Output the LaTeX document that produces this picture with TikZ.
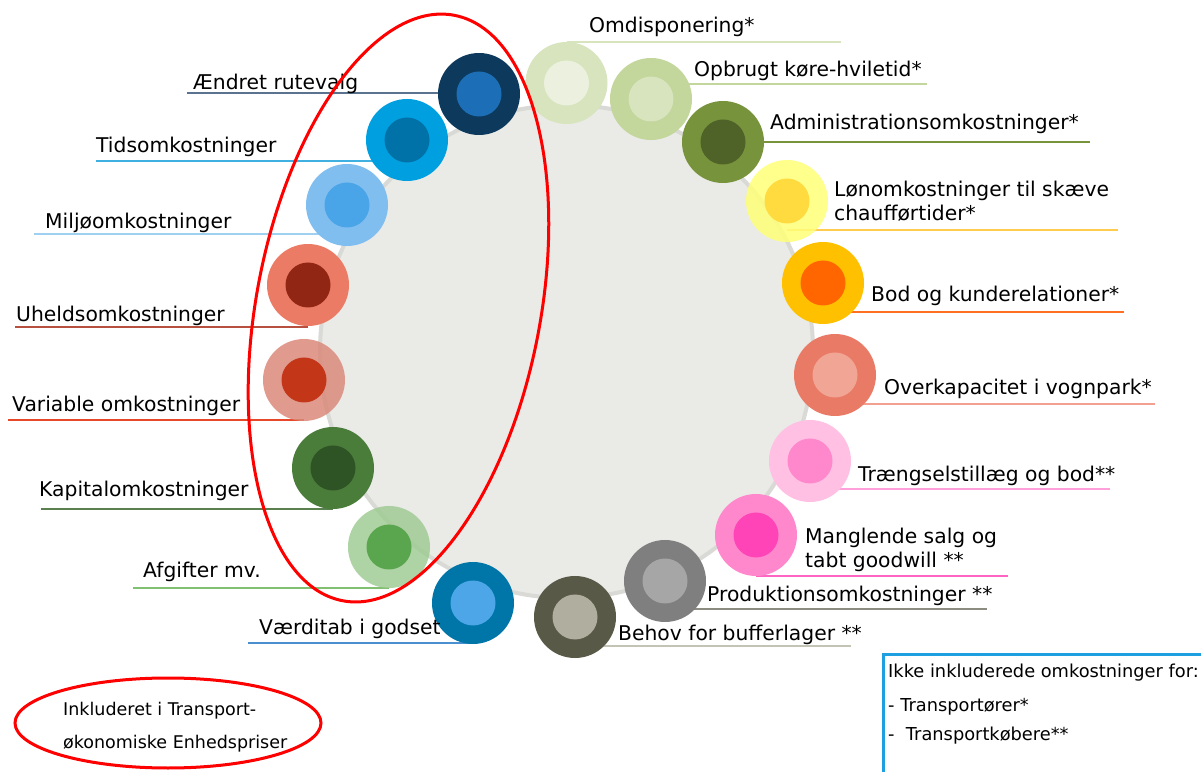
\documentclass[tikz,border=0pt]{standalone}
\usepackage{fontspec}
\setmainfont{DejaVu Sans}
\pgfdeclarelayer{bg}
\pgfsetlayers{bg,main}
\definecolor{omdO}{HTML}{D7E4BD}\definecolor{omdI}{HTML}{EBF1DE}
\definecolor{opbO}{HTML}{C3D69B}\definecolor{opbI}{HTML}{D7E4BD}
\definecolor{admO}{HTML}{77933C}\definecolor{admI}{HTML}{4F6228}
\definecolor{lonO}{HTML}{FFFF78}\definecolor{lonI}{HTML}{FFDB40}\definecolor{lonL}{HTML}{FFCC4D}
\definecolor{bodO}{HTML}{FFC000}\definecolor{bodI}{HTML}{FF6600}\definecolor{bodL}{HTML}{FF7020}
\definecolor{ovkO}{HTML}{E97B66}\definecolor{ovkI}{HTML}{F0A595}\definecolor{ovkL}{HTML}{F4A090}
\definecolor{traO}{HTML}{FFC0E3}\definecolor{traI}{HTML}{FF88CC}\definecolor{traL}{HTML}{FFA0DA}
\definecolor{manO}{HTML}{FF88CC}\definecolor{manI}{HTML}{FF44B8}\definecolor{manL}{HTML}{FF66C4}
\definecolor{proO}{HTML}{7F7F7F}\definecolor{proI}{HTML}{A6A6A6}\definecolor{proL}{HTML}{8C8C80}
\definecolor{behO}{HTML}{595948}\definecolor{behI}{HTML}{B0AE9E}\definecolor{behL}{HTML}{C4C4B4}
\definecolor{vaeO}{HTML}{0075A8}\definecolor{vaeI}{HTML}{4CA6E8}\definecolor{vaeL}{HTML}{4A90D0}
\definecolor{afgO}{HTML}{A0CB94}\definecolor{afgI}{HTML}{5AA64E}\definecolor{afgL}{HTML}{80C070}
\definecolor{kapO}{HTML}{4A7C3A}\definecolor{kapI}{HTML}{2E5426}\definecolor{kapL}{HTML}{5A8050}
\definecolor{varO}{HTML}{DA8A7A}\definecolor{varI}{HTML}{C43618}\definecolor{varL}{HTML}{E8482A}
\definecolor{uheO}{HTML}{EB7B65}\definecolor{uheI}{HTML}{922614}\definecolor{uheL}{HTML}{B85040}
\definecolor{milO}{HTML}{80BEF0}\definecolor{milI}{HTML}{4AA5E8}\definecolor{milL}{HTML}{A0D0F0}
\definecolor{tidO}{HTML}{00A0E0}\definecolor{tidI}{HTML}{0072A8}\definecolor{tidL}{HTML}{40B0E0}
\definecolor{aenO}{HTML}{0D3A5C}\definecolor{aenI}{HTML}{1C6FB6}\definecolor{aenL}{HTML}{5A7490}
\definecolor{hubF}{HTML}{EAEAE7}\definecolor{hubD}{HTML}{D9D9D6}
\definecolor{boxB}{HTML}{1EA0E0}
\newcommand\bub[6][]{%
  \node[outerc,fill=#5,#1] (#2) at (#3,#4) {};
  \node[innerc,fill=#6] (#2i) at (#2) {};}
\begin{document}
\begin{tikzpicture}[x=1pt,y=1pt,
  outerc/.style={circle,minimum size=82pt,inner sep=0pt},
  innerc/.style={circle,minimum size=45pt,inner sep=0pt},
  lbl/.style={anchor=base west,inner sep=0pt,font=\fontsize{20.3}{24}\selectfont,align=left},
  uline/.style={line width=2pt},
  small/.style={anchor=base west,inner sep=0pt,font=\fontsize{17.8}{20}\selectfont},
  legend/.style={anchor=base west,inner sep=0pt,font=\fontsize{17.5}{20}\selectfont},
  redline/.style={draw=red,line width=3pt},
]
\useasboundingbox (0,0) rectangle (1201,771);
\begin{pgfonlayer}{bg}
\node[circle,minimum size=493pt,inner sep=0pt,fill=hubF,draw=hubD,line width=4pt] (hub) at (566.5,419.5) {};
\end{pgfonlayer}
% bubbles
\bub{omd}{566.5}{688}{omdO}{omdI}
\bub{opb}{651}{672}{opbO}{opbI}
\bub{adm}{723}{629}{admO}{admI}
\bub[fill opacity=0.85]{lon}{787}{570}{lonO}{lonI}
\bub{bod}{823}{488}{bodO}{bodI}
\bub{ovk}{835}{396}{ovkO}{ovkI}
\bub{tra}{810}{310}{traO}{traI}
\bub{man}{756}{236}{manO}{manI}
\bub{pro}{665}{190}{proO}{proI}
\bub{beh}{575}{154}{behO}{behI}
\bub{vae}{473}{168}{vaeO}{vaeI}
\bub[fill opacity=0.85]{afg}{389}{224}{afgO}{afgI}
\bub{kap}{333}{303}{kapO}{kapI}
\bub[fill opacity=0.85]{var}{304}{391}{varO}{varI}
\bub{uhe}{308}{486}{uheO}{uheI}
\bub{mil}{347}{566}{milO}{milI}
\bub{tid}{407}{631}{tidO}{tidI}
\bub{aen}{479}{677}{aenO}{aenI}
% labels
\node[lbl] (omdT) at (589,738) {Omdisponering*};
\node[lbl] (opbT) at (694,694) {Opbrugt køre-hviletid*};
\node[lbl] (admT) at (770,641) {Administrationsomkostninger*};
\node[lbl] (lonT) at (834,550) {Lønomkostninger til skæve\\chaufførtider*};
\node[lbl] (bodT) at (871,469) {Bod og kunderelationer*};
\node[lbl] (ovkT) at (884,376) {Overkapacitet i vognpark*};
\node[lbl] (traT) at (858,289) {Trængselstillæg og bod**};
\node[lbl] (manT) at (805,203) {Manglende salg og\\tabt goodwill **};
\node[lbl] (proT) at (707,169) {Produktionsomkostninger **};
\node[lbl] (behT) at (618,131) {Behov for bufferlager **};
\node[lbl] (vaeT) at (259,137) {Værditab i godset};
\node[lbl] (afgT) at (143,193) {Afgifter mv.};
\node[lbl] (kapT) at (39,274) {Kapitalomkostninger};
\node[lbl] (varT) at (12,359) {Variable omkostninger};
\node[lbl] (uheT) at (16,449) {Uheldsomkostninger};
\node[lbl] (milT) at (45,542) {Miljøomkostninger};
\node[lbl] (tidT) at (96,618) {Tidsomkostninger};
\node[lbl] (aenT) at (193,681) {Ændret rutevalg};
% underline ends
\coordinate (omdE) at (841,729);
\coordinate (opbE) at (927,687);
\coordinate (admE) at (1090,628.5);
\coordinate (lonE) at (1118,541);
\coordinate (bodE) at (1124,459);
\coordinate (ovkE) at (1155,367);
\coordinate (traE) at (1110,282);
\coordinate (manE) at (1008,195);
\coordinate (proE) at (987,161.5);
\coordinate (behE) at (851,125);
\coordinate (vaeE) at (248,128);
\coordinate (afgE) at (133,183);
\coordinate (kapE) at (41,262);
\coordinate (varE) at (8,351);
\coordinate (uheE) at (15,444);
\coordinate (milE) at (34,537);
\coordinate (tidE) at (96,610);
\coordinate (aenE) at (187,678);
\begin{pgfonlayer}{bg}
\draw[uline,omdO] (omd |- omdE) -- (omdE);
\draw[uline,opbO] (opb |- opbE) -- (opbE);
\draw[uline,admO] (adm |- admE) -- (admE);
\draw[uline,lonL] (lon |- lonE) -- (lonE);
\draw[uline,bodL] (bod |- bodE) -- (bodE);
\draw[uline,ovkL] (ovk |- ovkE) -- (ovkE);
\draw[uline,traL] (tra |- traE) -- (traE);
\draw[uline,manL] (man |- manE) -- (manE);
\draw[uline,proL] (pro |- proE) -- (proE);
\draw[uline,behL] (beh |- behE) -- (behE);
\draw[uline,vaeL] (vae |- vaeE) -- (vaeE);
\draw[uline,afgL] (afg |- afgE) -- (afgE);
\draw[uline,kapL] (kap |- kapE) -- (kapE);
\draw[uline,varL] (var |- varE) -- (varE);
\draw[uline,uheL] (uhe |- uheE) -- (uheE);
\draw[uline,milL] (mil |- milE) -- (milE);
\draw[uline,tidL] (tid |- tidE) -- (tidE);
\draw[uline,aenL] (aen |- aenE) -- (aenE);
\end{pgfonlayer}
% big red ellipse
\coordinate (grp) at (398.5,463);
\draw[redline,rotate around={-10.8:(grp)}] (grp) ellipse [x radius=142, y radius=298];
% legend
\coordinate (leg) at (168,48);
\draw[redline] (leg) ellipse [x radius=153, y radius=45];
\node[legend] (leg1) at (63,56) {Inkluderet i Transport-};
\node[legend] (leg2) at (63,23) {økonomiske Enhedspriser};
% box
\coordinate (boxTL) at (883,117);
\draw[boxB,line width=3pt] (1210,117) -- (boxTL) -- (883,-10);
\node[small] (box1) at (888,94) {Ikke inkluderede omkostninger for:};
\node[small] (box2) at (888,60) {- Transportører*};
\node[small] (box3) at (888,31) {-\ \ Transportkøbere**};
\end{tikzpicture}
\end{document}
